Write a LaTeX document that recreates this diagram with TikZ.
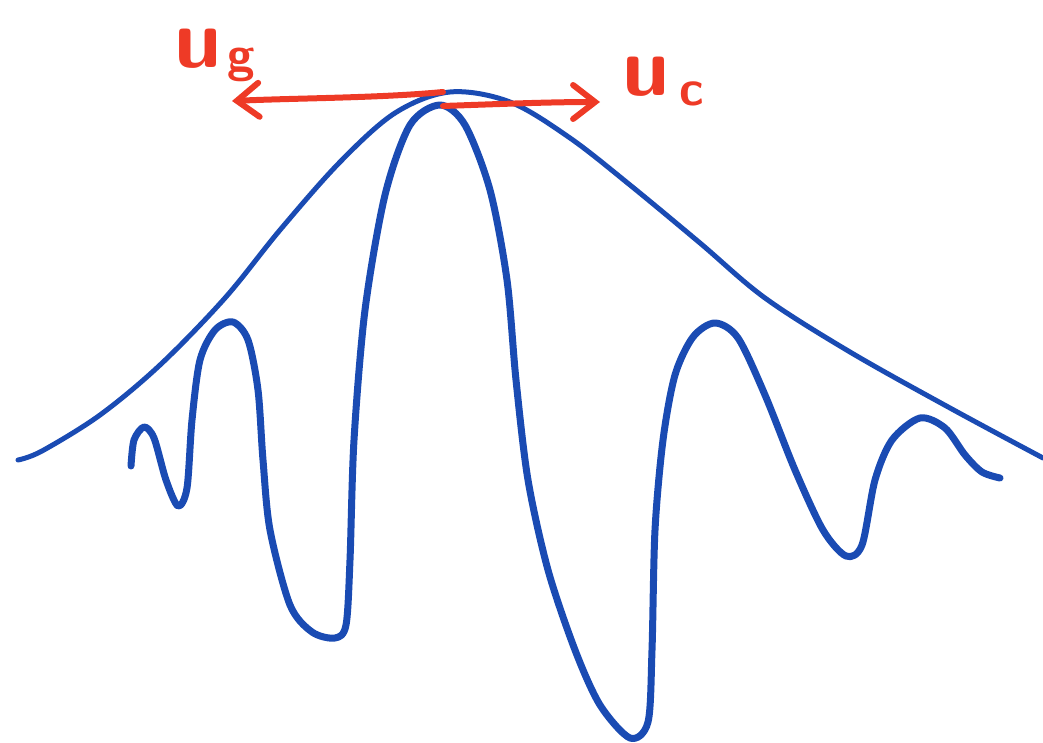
\documentclass[tikz,border=0pt]{standalone}
\usetikzlibrary{arrows.meta}
\definecolor{penblue}{HTML}{1A4BB3}
\definecolor{penred}{HTML}{EE3A26}
\tikzset{
  envelope/.style={draw=penblue, line width=5pt, line cap=round, line join=round},
  carrier/.style={draw=penblue, line width=7pt, line cap=round, line join=round},
  velarrow/.style={draw=penred, line width=6pt, line cap=round, line join=round,
    -{Straight Barb[length=22pt,width=34pt,line cap=round]}},
  vellabel/.style={text=penred, font=\sffamily\bfseries\fontsize{84}{84}\selectfont, inner sep=0pt},
  velsub/.style={text=penred, font=\sffamily\bfseries\fontsize{50}{50}\selectfont, inner sep=0pt}
}
\begin{document}
\begin{tikzpicture}[x=1pt,y=-1pt]
\useasboundingbox (0,0) rectangle (1043,743);
% envelope
\draw[envelope] plot[smooth, tension=0.55] coordinates {
 (18,460) (42,451) (100,415) (160,365) (225,298) (280,230) (340,162)
 (395,113) (450,92) (510,102) (570,138) (630,185) (700,243) (765,298)
 (850,352) (950,408) (1043,458)};
% carrier
\draw[carrier] plot[smooth, tension=0.5] coordinates {
 (131,466) (134,440) (144,427) (154,438) (166,480) (178,506) (187,488)
 (192,420) (200,360) (215,330) (233,322) (248,340) (258,390) (263,460)
 (270,530) (290,605) (312,632) (335,638) (346,625) (350,560) (354,440)
 (365,310) (385,195) (410,125) (440,105) (465,125) (490,190) (507,280)
 (516,380) (528,480) (548,570) (575,650) (600,705) (630,738) (648,722)
 (652,650) (655,530) (663,440) (675,375) (693,337) (715,323) (738,338)
 (765,395) (795,470) (823,530) (846,556) (862,545) (875,480) (892,440)
 (920,418) (945,428) (965,455) (982,472) (1000,478)};
% arrows
\coordinate (peak) at (443,92);
\coordinate (peakB) at (443,106);
\coordinate (gtip) at (232,101);
\coordinate (ctip) at (600,102);
\draw[velarrow] (peak) .. controls (380,98) and (300,98) .. (gtip);
\draw[velarrow] (peakB) .. controls (500,104) and (550,102) .. (ctip);
% labels
\node[vellabel, anchor=base west] (ug) at (174,68) {u};
\node[velsub, anchor=base west] (ugs) at (227,72) {g};
\node[vellabel, anchor=base west] (uc) at (622,96) {u};
\node[velsub, anchor=base west] (ucs) at (679,106) {c};
\end{tikzpicture}
\end{document}
